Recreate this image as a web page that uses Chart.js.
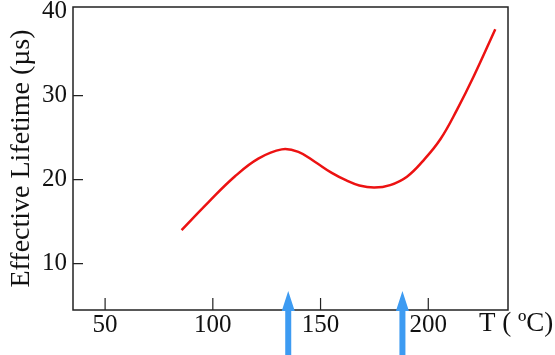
<!DOCTYPE html>
<html lang="en">
<head>
<meta charset="UTF-8">
<title>Effective Lifetime vs Temperature</title>
<style>
  body { margin: 0; background: #fff; }
  #wrap { width: 555px; height: 355px; }
</style>
</head>
<body>
<div id="wrap"><canvas id="chart"></canvas></div>
<script src="https://cdn.jsdelivr.net/npm/chart.js"></script>
<script>
// values
const tempC = [85.5, 97.9, 110.3, 121.1, 132.0, 139.7, 147.5, 155.2, 162.0, 168.0, 175.0, 182.3, 190.1, 197.8, 205.6, 213.3, 221.1, 231.1];
const lifetimeUs = [14.0, 17.3, 20.4, 22.5, 23.6, 23.3, 22.1, 20.8, 19.9, 19.3, 19.05, 19.35, 20.35, 22.3, 24.8, 28.3, 32.3, 37.9];
const xTicks = [50, 100, 150, 200];
const yTicks = [10, 20, 30, 40];
const arrowTemps = [135, 188];

const SERIF = '"Liberation Serif", "Times New Roman", serif';

// box, inward tick marks, arrows and the x title
const frame = {
    id: 'frame',
    beforeDatasetsDraw(chart) {
        const {ctx, chartArea: a, scales: {x, y}} = chart;
        ctx.save();
        ctx.strokeStyle = '#222';
        ctx.lineWidth = 1.5;
        ctx.strokeRect(a.left, a.top, a.right - a.left, a.bottom - a.top);
        ctx.lineWidth = 1.2;
        ctx.beginPath();
        yTicks.forEach(v => {
            const py = y.getPixelForValue(v);
            if (py - a.top < 8) return; // no mark at the top edge
            ctx.moveTo(a.left, py);
            ctx.lineTo(a.left + 10, py);
        });
        xTicks.forEach(v => {
            const px = x.getPixelForValue(v);
            ctx.moveTo(px, a.bottom);
            ctx.lineTo(px, a.bottom - 12);
        });
        ctx.stroke();
        ctx.restore();
    },
    afterDraw(chart) {
        const {ctx, chartArea: a, scales: {x}} = chart;
        ctx.save();
        ctx.fillStyle = '#3d9bf2';
        arrowTemps.forEach(t => {
            const px = x.getPixelForValue(t);
            ctx.beginPath();
            ctx.moveTo(px, a.bottom - 19);
            ctx.lineTo(px + 6.5, a.bottom + 1);
            ctx.lineTo(px + 3, a.bottom + 1);
            ctx.lineTo(px + 3, chart.height);
            ctx.lineTo(px - 3, chart.height);
            ctx.lineTo(px - 3, a.bottom + 1);
            ctx.lineTo(px - 6.5, a.bottom + 1);
            ctx.closePath();
            ctx.fill();
        });
        ctx.fillStyle = '#111';
        ctx.font = '27px ' + SERIF;
        ctx.textAlign = 'left';
        ctx.textBaseline = 'middle';
        ctx.fillText('T ( \u00baC)', a.right - 29, a.bottom + 14);
        ctx.restore();
    }
};

new Chart(document.getElementById('chart'), {
    type: 'line',
    data: {
        datasets: [{
            data: tempC.map((t, i) => ({x: t, y: lifetimeUs[i]})),
            borderColor: 'rgb(236, 18, 18)',
            borderWidth: 2.5,
            pointRadius: 0,
            tension: 0.4,
            fill: false
        }]
    },
    options: {
        responsive: true,
        maintainAspectRatio: false,
        animation: false,
        layout: { padding: { top: 7, right: 47, left: 0, bottom: 0 } },
        plugins: { legend: { display: false }, tooltip: { enabled: false } },
        scales: {
            x: {
                type: 'linear',
                min: 35.1,
                max: 237,
                grid: { display: false, drawTicks: false },
                border: { display: false },
                afterBuildTicks: s => { s.ticks = xTicks.map(v => ({value: v})); },
                afterFit: s => { s.height = 45; s.paddingLeft = 0; s.paddingRight = 0; },
                ticks: { padding: 0, color: '#111', font: { family: SERIF, size: 25 } }
            },
            y: {
                type: 'linear',
                min: 4.48,
                max: 40.55,
                grid: { display: false, drawTicks: false },
                border: { display: false },
                afterBuildTicks: s => { s.ticks = yTicks.map(v => ({value: v})); },
                afterFit: s => { s.width = 73; s.paddingTop = 0; s.paddingBottom = 0; },
                ticks: { padding: 6, color: '#111', font: { family: SERIF, size: 25 } },
                title: {
                    display: true,
                    text: 'Effective Lifetime (\u00b5s)',
                    color: '#111',
                    font: { family: SERIF, size: 28, lineHeight: 1.2 },
                    padding: { top: 5, bottom: 0 }
                }
            }
        }
    },
    plugins: [frame]
});
</script>
</body>
</html>
